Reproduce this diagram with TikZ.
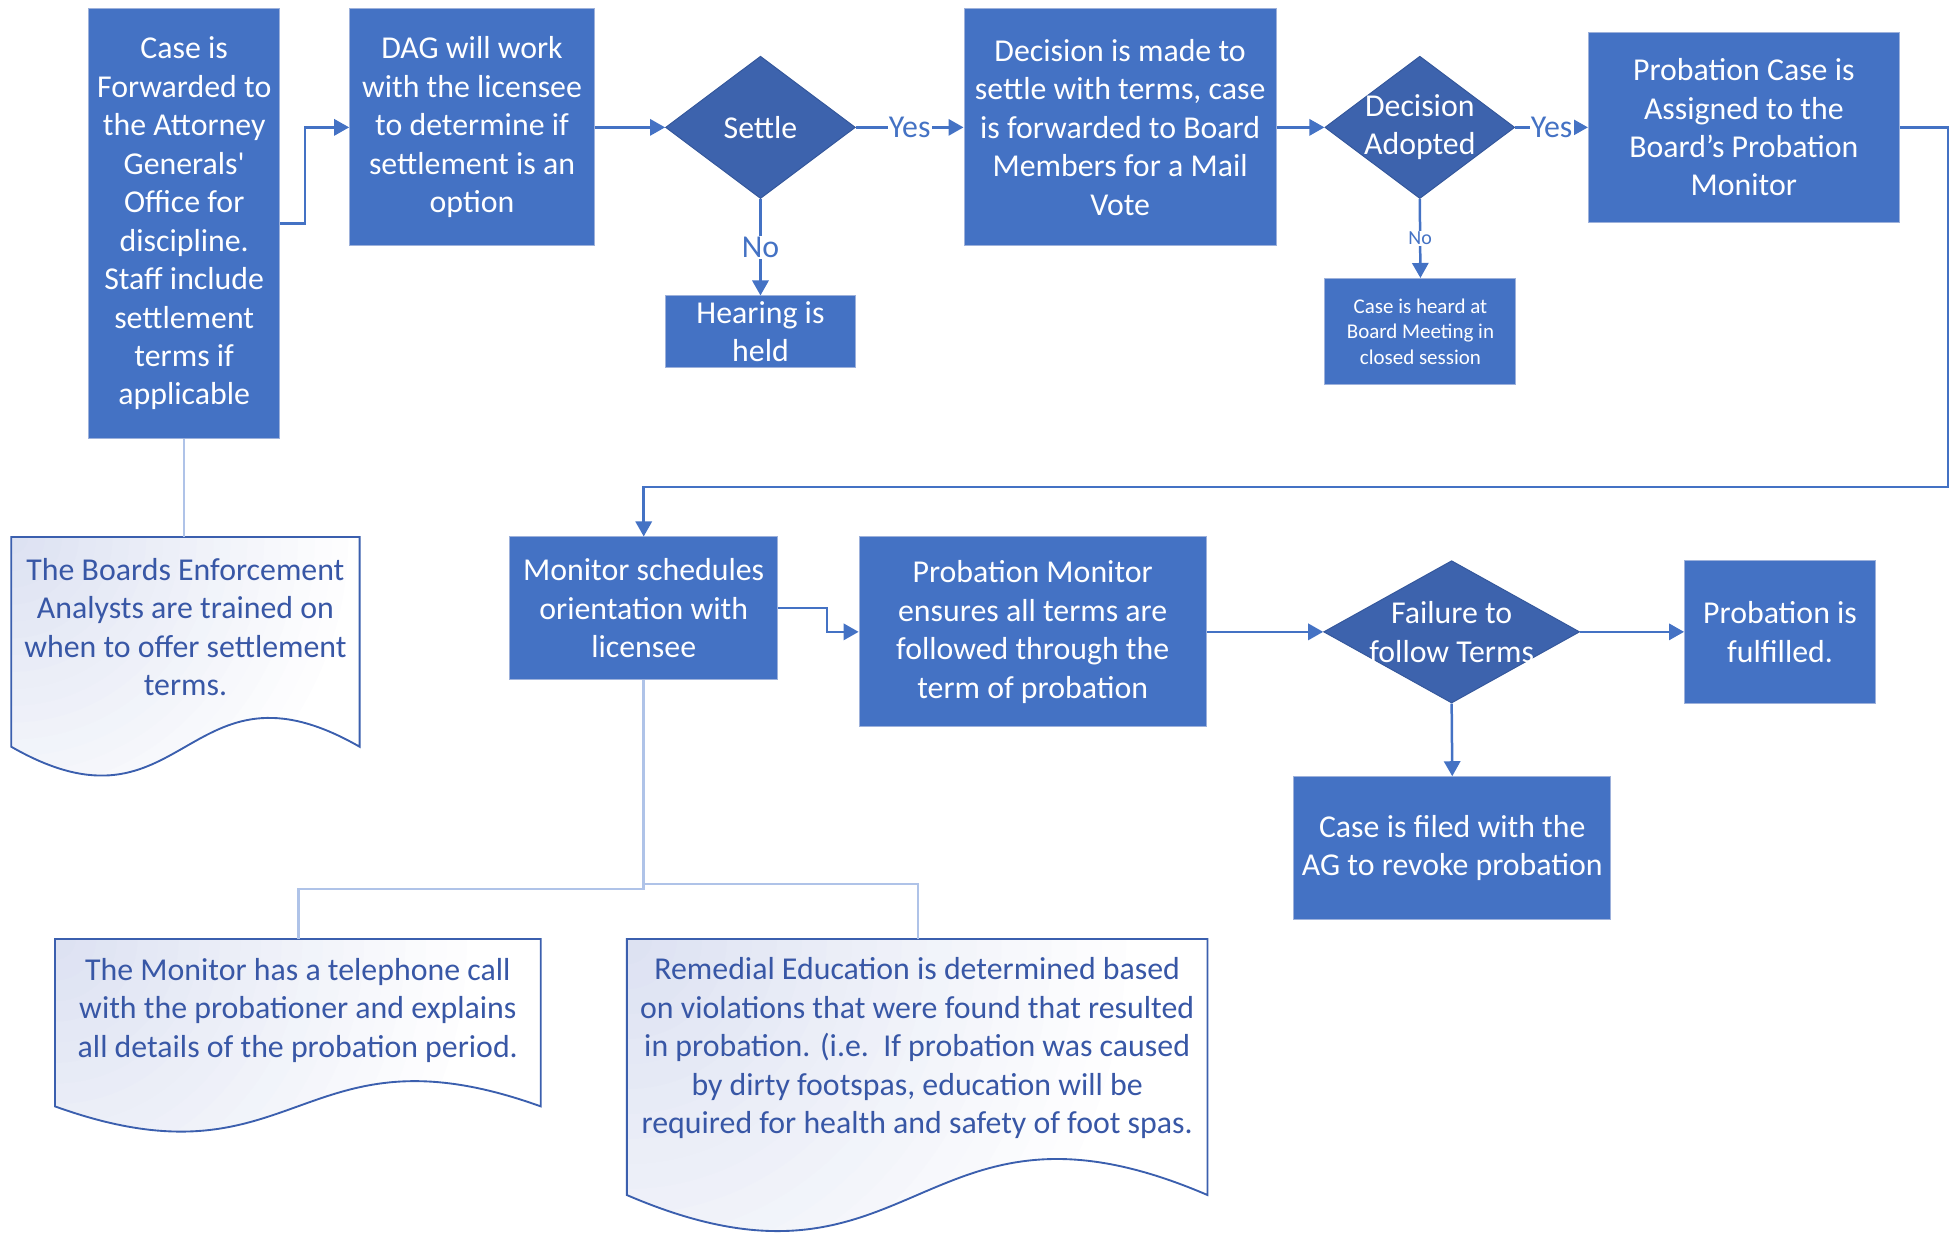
\documentclass[tikz,border=0pt]{standalone}
\usepackage{fontspec}
\setmainfont{Carlito}
\usetikzlibrary{shapes.geometric,arrows.meta,backgrounds}
\definecolor{boxblue}{HTML}{4472C4}
\definecolor{boxedge}{HTML}{9DB1DB}
\definecolor{dmdblue}{HTML}{3D63AD}
\definecolor{dmdedge}{HTML}{35589C}
\definecolor{softline}{HTML}{AFC3E8}
\definecolor{docedge}{HTML}{3B5FAE}
\definecolor{doctext}{HTML}{3857A6}
\definecolor{docfill}{HTML}{DDE2F2}
\begin{document}
\begin{tikzpicture}[x=1pt,y=-1pt,
  bigfont/.style={font=\fontsize{25.5}{30.8}\selectfont},
  box/.style={rectangle, fill=boxblue, draw=boxedge, line width=0.8pt, text=white, align=center, inner sep=0pt, bigfont},
  smallbox/.style={box, font=\fontsize{16.8}{20.5}\selectfont},
  dmd/.style={diamond, fill=dmdblue, draw=dmdedge, line width=0.8pt, inner sep=0pt},
  dtext/.style={text=white, align=center, bigfont},
  conn/.style={draw=boxblue, line width=2pt, -{Triangle[length=12pt,width=13pt]}},
  lbl/.style={fill=white, text=boxblue, inner sep=1pt, bigfont},
  smalllbl/.style={fill=white, text=boxblue, inner sep=1pt, font=\fontsize{16}{19}\selectfont},
  soft/.style={draw=softline, line width=2pt},
  docline/.style={draw=docedge, line width=1.5pt},
  doctxt/.style={text=doctext, align=center, bigfont}
]
\useasboundingbox (0,0) rectangle (1568,987);

% process boxes
\node[box, minimum width=153pt, minimum height=344pt] (b1) at (147.5,179)
  {Case is\\Forwarded to\\the Attorney\\Generals\textquotesingle\\Office for\\discipline.\\Staff include\\settlement\\terms if\\applicable};
\node[box, minimum width=196pt, minimum height=190pt] (b2) at (378,102)
  {DAG will work\\with the licensee\\to determine if\\settlement is an\\option};
\node[dmd, minimum width=152pt, minimum height=114pt, label={[dtext]center:Settle}] (s) at (609,102) {};
\node[box, minimum width=152pt, minimum height=57pt] (hear) at (609,265.5) {Hearing is\\held};
\node[box, minimum width=250pt, minimum height=190pt] (b3) at (897,102)
  {Decision is made to\\settle with terms, case\\is forwarded to Board\\Members for a Mail\\Vote};
\node[dmd, minimum width=152pt, minimum height=114pt, label={[dtext]center:Decision\\Adopted}] (da) at (1137,102) {};
\node[smallbox, minimum width=153pt, minimum height=85pt] (heard) at (1137.5,265.5)
  {Case is heard at\\Board Meeting in\\closed session};
\node[box, minimum width=249pt, minimum height=152pt] (b4) at (1396.5,102)
  {Probation Case is\\Assigned to the\\Board’s Probation\\Monitor};
\node[box, minimum width=215pt, minimum height=114pt] (b5) at (515.5,487)
  {Monitor schedules\\orientation with\\licensee};
\node[box, minimum width=278pt, minimum height=152pt] (b6) at (827,506)
  {Probation Monitor\\ensures all terms are\\followed through the\\term of probation};
\node[dmd, minimum width=205pt, minimum height=114pt, label={[dtext]center:Failure to\\follow Terms}] (ft) at (1162.5,506) {};
\node[box, minimum width=153pt, minimum height=114pt] (b7) at (1425.5,506)
  {Probation is\\fulfilled.};
\node[box, minimum width=254pt, minimum height=114pt] (b8) at (1163,679)
  {Case is filed with the\\AG to revoke probation};

% documents (text nodes)
\node[doctxt] (d1) at (148.5,502)
  {The Boards Enforcement\\Analysts are trained on\\when to offer settlement\\terms.};
\node[doctxt] (d2) at (238.5,809)
  {The Monitor has a telephone call\\with the probationer and explains\\all details of the probation period.};
\node[doctxt] (d3) at (734.5,839.5)
  {Remedial Education is determined based\\on violations that were found that resulted\\in probation. (i.e.\ \ If probation was caused\\by dirty footspas, education will be\\required for health and safety of foot spas.};
\coordinate (d1top) at (148.5,430);
\coordinate (d2top) at (239,752);
\coordinate (d3top) at (735,752);

\begin{scope}[on background layer]
  \begin{scope}
    \clip (9,430) -- (288,430) -- (288,598)
       .. controls (148.5,518) and (148.5,678) .. (9,598) -- cycle;
    \foreach \k [evaluate=\k as \pct using int(5*\k), evaluate=\k as \rr using 270*(21-\k)/20] in {1,...,20}
      \fill[docfill!\pct!white] (9,430) circle[radius=\rr];
  \end{scope}
  \draw[docline] (9,430) -- (288,430) -- (288,598)
     .. controls (148.5,518) and (148.5,678) .. (9,598) -- cycle;
  \begin{scope}
    \clip (44,752) -- (433,752) -- (433,886)
       .. controls (238.5,816) and (238.5,956) .. (44,886) -- cycle;
    \foreach \k [evaluate=\k as \pct using int(5*\k), evaluate=\k as \rr using 330*(21-\k)/20] in {1,...,20}
      \fill[docfill!\pct!white] (44,752) circle[radius=\rr];
  \end{scope}
  \draw[docline] (44,752) -- (433,752) -- (433,886)
     .. controls (238.5,816) and (238.5,956) .. (44,886) -- cycle;
  \begin{scope}
    \clip (502,752) -- (967,752) -- (967,957)
       .. controls (734.5,857) and (734.5,1057) .. (502,957) -- cycle;
    \foreach \k [evaluate=\k as \pct using int(5*\k), evaluate=\k as \rr using 400*(21-\k)/20] in {1,...,20}
      \fill[docfill!\pct!white] (502,752) circle[radius=\rr];
  \end{scope}
  \draw[docline] (502,752) -- (967,752) -- (967,957)
     .. controls (734.5,857) and (734.5,1057) .. (502,957) -- cycle;
\end{scope}

% connectors
\draw[conn] (b1.east) -- ++(20,0) |- (b2.west);
\draw[conn] (b2.east) -- (s.west);
\draw[conn] (s.east) -- node[lbl]{Yes} (b3.west);
\draw[conn] (s.south) -- node[lbl]{No} (hear.north);
\draw[conn] (b3.east) -- (da.west);
\draw[conn] (da.east) -- node[lbl]{Yes} (b4.west);
\draw[conn] (da.south) -- node[smalllbl]{No} (heard.north);
\coordinate (rt) at (1560,390);
\draw[conn] (b4.east) -| (rt) -| (b5.north);
\draw[conn] (b5.east) -- ++(39,0) |- (b6.west);
\draw[conn] (b6.east) -- (ft.west);
\draw[conn] (ft.east) -- (b7.west);
\draw[conn] (ft.south) -- (b8.north);

% soft connectors to documents
\draw[soft] (b1.south) -- (b1.south |- d1top);
\coordinate (j1) at (515.5,712);
\coordinate (j2) at (515.5,708);
\draw[soft] (b5.south) -- (j1) -| (d2top);
\draw[soft] (j2) -| (d3top);
\end{tikzpicture}
\end{document}
